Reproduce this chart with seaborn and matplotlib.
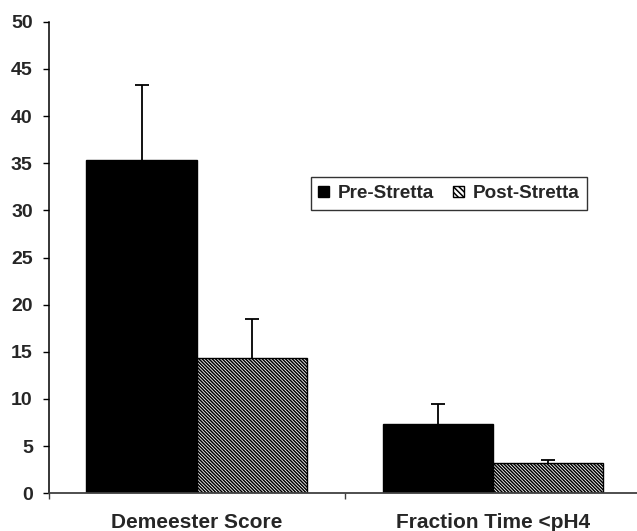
import matplotlib
matplotlib.use("Agg")
import matplotlib.pyplot as plt
import seaborn as sns
import pandas as pd
import numpy as np
from matplotlib.patches import Patch

categories = ["Demeester Score", "Fraction Time <pH4"]
groups = ["Pre-Stretta", "Post-Stretta"]
pre_values = [35.3, 7.4]
post_values = [14.3, 3.25]
pre_errors = [8.0, 2.1]
post_errors = [4.15, 0.32]

df = pd.DataFrame({
    "Measure": categories * 2,
    "Group": [groups[0]] * 2 + [groups[1]] * 2,
    "Value": pre_values + post_values,
    "Err": pre_errors + post_errors,
})

sns.set_theme(style="white")
plt.rcParams["font.family"] = ["Liberation Sans", "DejaVu Sans"]
plt.rcParams["font.weight"] = "bold"
plt.rcParams["hatch.linewidth"] = 1.1

fig = plt.figure(figsize=(6.37, 5.31), dpi=100)
ax = fig.add_axes([0.0765, 0.071, 0.9235, 0.888])

sns.barplot(data=df, x="Measure", y="Value", hue="Group", order=categories,
            hue_order=groups, palette=["black", "white"], width=0.745,
            gap=0, errorbar=None, edgecolor="black", linewidth=1.0,
            legend=False, ax=ax)

HATCH = "\\" * 10
n = len(categories)
containers = list(ax.containers)
for gi, cont in enumerate(containers):
    sub = df[df["Group"] == groups[gi]].set_index("Measure").loc[categories]
    errs = sub["Err"].values
    vals = sub["Value"].values
    xs = [p.get_x() + p.get_width() / 2 for p in cont.patches]
    if gi == 1:
        for p in cont.patches:
            p.set_hatch(HATCH)
    eb = ax.errorbar(xs, vals, yerr=[np.zeros(n), errs], fmt="none", ecolor="black",
                     elinewidth=1.3, capsize=4.7, capthick=1.3, zorder=2)
    caps = eb[1]
    if len(caps) >= 2:
        caps[0].set_visible(False)

ax.set_ylim(0, 50)
ax.set_xlim(-0.5, 1.4865)
ax.set_yticks(np.arange(0, 51, 5))
ax.set_yticklabels([str(v) for v in range(0, 51, 5)], fontsize=14, fontweight="bold")
ax.tick_params(axis="y", direction="out", length=4.5, width=1, color="black", pad=7, left=True)

ax.set_xticks([-0.5, 0.5])
ax.set_xticklabels(["", ""])
ax.set_xticks([0, 1], minor=True)
ax.set_xticklabels(categories, minor=True, fontsize=15, fontweight="bold")
ax.tick_params(axis="x", which="major", direction="out", length=4.5, width=1, color="#404040", bottom=True)
ax.tick_params(axis="x", which="minor", length=0, pad=14)

ax.set_xlabel("")
ax.set_ylabel("")
for s in ["top", "right"]:
    ax.spines[s].set_visible(False)
ax.spines["left"].set_color("black")
ax.spines["left"].set_linewidth(1.1)
ax.spines["bottom"].set_color("#404040")
ax.spines["bottom"].set_linewidth(1.3)

handles = [Patch(facecolor="black", edgecolor="black", label=groups[0]),
           Patch(facecolor="white", edgecolor="black", hatch="\\" * 6, label=groups[1])]
leg = ax.legend(handles=handles, loc="center", bbox_to_anchor=(0.68, 0.635),
                ncol=2, frameon=True, fancybox=False, edgecolor="black",
                handlelength=0.55, handleheight=0.55, handletextpad=0.45,
                columnspacing=1.05, borderpad=0.42, borderaxespad=0,
                prop={"size": 13.6, "weight": "bold"})
leg.get_frame().set_linewidth(1.0)

fig.savefig("out.png", dpi=100)
